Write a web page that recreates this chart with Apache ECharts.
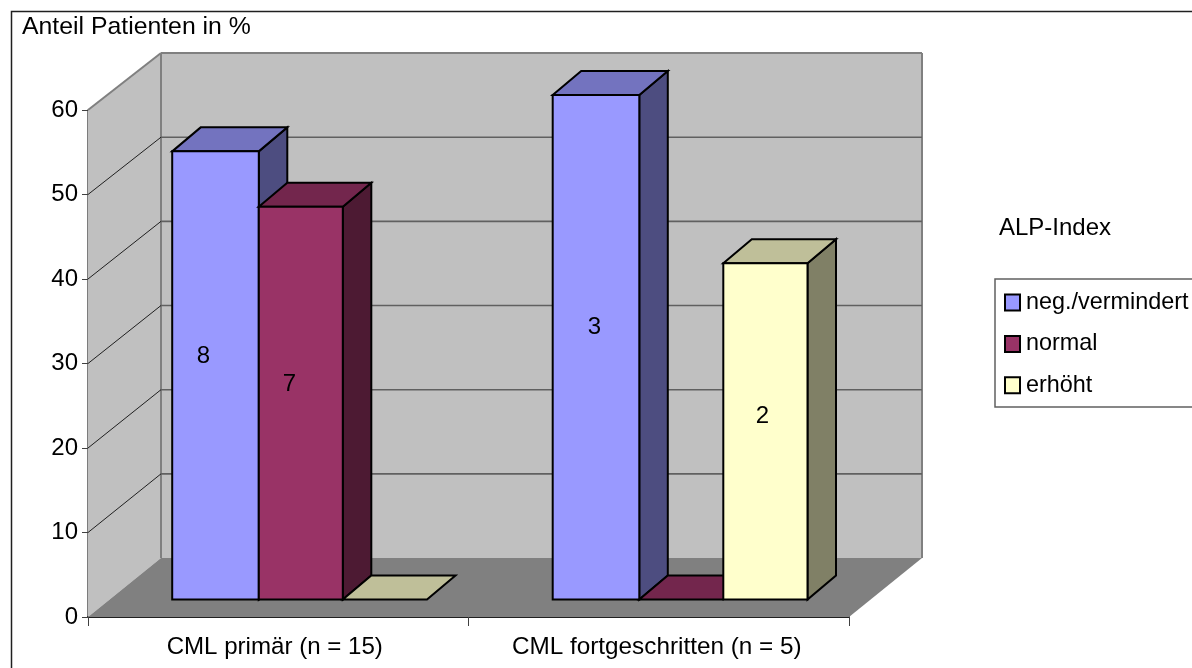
<!DOCTYPE html>
<html>
<head>
<meta charset="utf-8">
<style>html,body{margin:0;padding:0;background:#fff}#chart{width:1192px;height:668px}</style>
<script src="https://cdn.jsdelivr.net/npm/echarts@6/dist/echarts.min.js"></script>
</head>
<body>
<div id="chart"></div>
<script>
// Anteil der Patienten je ALP-Index-Gruppe
var categories = ['CML primär (n = 15)', 'CML fortgeschritten (n = 5)'];
var seriesNames = ['neg./vermindert', 'normal', 'erhöht'];
var percentNeg = [53.3, 60];
var percentNormal = [46.7, 0];
var percentHigh = [0, 40];
var countsNeg = [8, 3];
var countsNormal = [7, ''];
var countsHigh = ['', 2];
var yTicks = [10, 20, 30, 40, 50, 60];

// Pseudo-3D geometry, in pixels relative to the axis plane
var WALL_DX = 73, WALL_DY = -59, WALL_SHRINK = 0.996;
var BAR_Y = -17.5, BAR_DX = 28.5, BAR_DY = -24, BAR_SHRINK = 0.995;
var GROUP_START = 84.2;
var BAR_EDGES = [0, 86.6, 170.6, 254.8];
var FONT = '"Liberation Sans", Arial, sans-serif';
var FONT_SIZE = 24;

var palette = [
  { front: '#9999FF', top: '#7373BF', side: '#4D4D80' },
  { front: '#993366', top: '#73264D', side: '#4D1A33' },
  { front: '#FFFFCC', top: '#BFBF99', side: '#808066' }
];
// Excel sets its value labels slightly off the face centre
var labelNudge = [
  [[-12, -19.5], [-1.7, -19.5]],
  [[-11.4, -18.5], [0, 0]],
  [[0, 0], [-3.1, -15.2]]
];

function poly(points, fill, stroke, width) {
  return {
    type: 'polygon',
    shape: { points: points },
    style: { fill: fill, stroke: stroke || null, lineWidth: width || 0, lineJoin: 'miter' }
  };
}
function segment(a, b, stroke, width) {
  return {
    type: 'line',
    shape: { x1: a[0], y1: a[1], x2: b[0], y2: b[1] },
    style: { stroke: stroke, lineWidth: width }
  };
}

// The point on the back wall behind a given value on the axis
function toBack(p, base) {
  return [p[0] + WALL_DX, base + (p[1] - base) * WALL_SHRINK + WALL_DY];
}

function renderFrame(params, api) {
  var left = api.coord([0, 0])[0] - api.size([1, 0])[0] / 2;
  var right = left + api.size([1, 0])[0] * 2;
  var base = api.coord([0, 0])[1];
  var topY = api.coord([0, 60])[1];
  var a = [left, base], b = [left, topY], c = [right, base], d = [right, topY];
  var A = toBack(a, base), B = toBack(b, base), C = toBack(c, base), D = toBack(d, base);
  return {
    type: 'group',
    children: [
      poly([a, b, B, A], '#C0C0C0'),
      poly([A, B, D, C], '#C0C0C0'),
      poly([a, A, C, c], '#808080'),
      segment(b, B, '#808080', 2),
      segment(B, D, '#808080', 2),
      segment(D, C, '#808080', 2),
      segment(A, B, '#808080', 2)
    ]
  };
}

function renderGridLine(params, api) {
  var left = api.coord([0, 0])[0] - api.size([1, 0])[0] / 2;
  var right = left + api.size([1, 0])[0] * 2;
  var base = api.coord([0, 0])[1];
  var y = api.coord([0, api.value(0)])[1];
  if (api.value(0) >= 60) return null;
  var p = [left, y], P = toBack(p, base), Q = toBack([right, y], base);
  return {
    type: 'group',
    children: [segment(p, P, '#202020', 1), segment(P, Q, '#606060', 1.6)]
  };
}

function makeBarRenderer(seriesIndex, labels) {
  return function (params, api) {
    var cat = api.value(0), val = api.value(1);
    var origin = api.coord([cat, 0]);
    var band = api.size([1, 0])[0];
    var start = origin[0] - band / 2 + GROUP_START;
    var x0 = start + BAR_EDGES[seriesIndex];
    var x1 = start + BAR_EDGES[seriesIndex + 1];
    var y0 = origin[1] + BAR_Y;
    var y1 = y0 + (api.coord([cat, val])[1] - origin[1]) * BAR_SHRINK;
    var c = palette[seriesIndex];
    var ink = '#000000', w = 2;
    var kids = [];
    if (val > 0) {
      kids.push(poly([[x1, y0], [x1, y1], [x1 + BAR_DX, y1 + BAR_DY], [x1 + BAR_DX, y0 + BAR_DY]], c.side, ink, w));
    }
    kids.push(poly([[x0, y1], [x1, y1], [x1 + BAR_DX, y1 + BAR_DY], [x0 + BAR_DX, y1 + BAR_DY]], c.top, ink, w));
    if (val > 0) {
      kids.push(poly([[x0, y0], [x1, y0], [x1, y1], [x0, y1]], c.front, ink, w));
    }
    var text = labels[cat];
    if (text !== '') {
      var nudge = labelNudge[seriesIndex][cat];
      kids.push({
        type: 'text',
        z2: 10,
        style: {
          x: (x0 + x1) / 2 + nudge[0],
          y: (y0 + y1) / 2 + nudge[1],
          text: String(text),
          fill: '#000',
          font: FONT_SIZE + 'px ' + FONT,
          align: 'center',
          verticalAlign: 'middle'
        }
      });
    }
    return { type: 'group', children: kids };
  };
}

function barSeries(index, values, labels) {
  return {
    type: 'custom',
    name: seriesNames[index],
    coordinateSystem: 'cartesian2d',
    clip: false,
    z: 5 + index,
    itemStyle: { color: palette[index].front },
    encode: { x: 0, y: 1 },
    data: values.map(function (v, i) { return [i, v]; }),
    renderItem: makeBarRenderer(index, labels)
  };
}

var chart = echarts.init(document.getElementById('chart'), null, { renderer: 'canvas' });
chart.setOption({
  animation: false,
  backgroundColor: '#fff',
  textStyle: { fontFamily: FONT },
  title: {
    text: 'Anteil Patienten in %',
    left: 22, top: 15, padding: 0,
    textStyle: { fontFamily: FONT, fontSize: 24.8, fontWeight: 'normal', color: '#000' }
  },
  grid: { left: 88, top: 110, width: 761, height: 507, containLabel: false },
  xAxis: {
    type: 'category',
    data: categories,
    axisLine: { show: true, onZero: true, lineStyle: { color: '#202020', width: 2 } },
    axisTick: { show: true, length: 9, lineStyle: { color: '#404040', width: 1 } },
    axisLabel: {
      margin: 18,
      interval: 0,
      color: '#000',
      fontFamily: FONT,
      fontSize: FONT_SIZE,
      formatter: function (v, i) { return '{c' + i + '|' + v + '}'; },
      rich: {
        c0: { fontSize: 24.1, fontFamily: FONT, color: '#000', padding: [0, 7, 0, 0] },
        c1: { fontSize: 24.3, fontFamily: FONT, color: '#000', padding: [0, 4, 0, 0] }
      }
    }
  },
  yAxis: {
    type: 'value',
    min: 0, max: 60, interval: 10,
    axisLine: { show: true, lineStyle: { color: '#505050', width: 1.5 } },
    axisTick: { show: true, length: 6, lineStyle: { color: '#404040', width: 1 } },
    axisLabel: { margin: 10, color: '#000', fontFamily: FONT, fontSize: FONT_SIZE, padding: [4, 0, 0, 0] },
    splitLine: { show: false }
  },
  legend: {
    left: 1004, top: 291, orient: 'vertical',
    icon: 'rect',
    padding: 0,
    itemWidth: 15, itemHeight: 16, itemGap: 18.4,
    selectedMode: false,
    data: seriesNames,
    itemStyle: { borderColor: '#000', borderWidth: 2 },
    textStyle: { fontFamily: FONT, fontSize: 23.4, color: '#000', padding: [0, 0, 6, 1] }
  },
  graphic: [
    {
      type: 'rect', z: -1, silent: true,
      shape: { x: 11.5, y: 11.5, width: 1300, height: 800 },
      style: { fill: 'none', stroke: '#202020', lineWidth: 1.5 }
    },
    {
      type: 'rect', z: 1, silent: true,
      shape: { x: 995, y: 279, width: 300, height: 128 },
      style: { fill: '#fff', stroke: '#606060', lineWidth: 1.5 }
    },
    {
      type: 'text', z: 2, silent: true, x: 999, y: 216,
      style: { text: 'ALP-Index', fill: '#000', font: FONT_SIZE + 'px ' + FONT }
    }
  ],
  series: [
    {
      type: 'custom', coordinateSystem: 'cartesian2d', clip: false, z: 1, silent: true,
      encode: { x: 0, y: 1 }, data: [[0, 0]], renderItem: renderFrame
    },
    {
      type: 'custom', coordinateSystem: 'cartesian2d', clip: false, z: 2, silent: true,
      encode: { y: 0 }, data: yTicks.map(function (t) { return [t]; }), renderItem: renderGridLine
    },
    barSeries(0, percentNeg, countsNeg),
    barSeries(1, percentNormal, countsNormal),
    barSeries(2, percentHigh, countsHigh)
  ]
});
</script>
</body>
</html>
